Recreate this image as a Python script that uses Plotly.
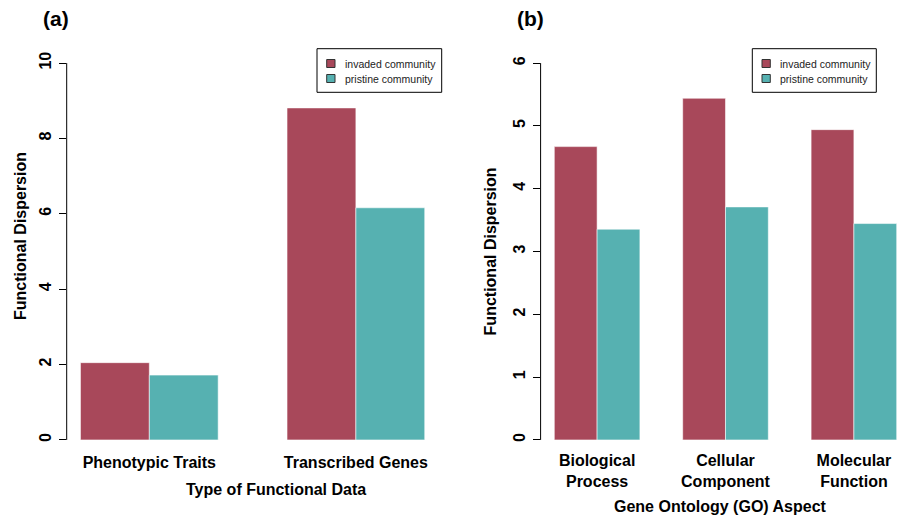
import plotly.graph_objects as go

# ---- data ----
cats_a = ["Phenotypic Traits", "Transcribed Genes"]
invaded_a = [2.05, 8.81]
pristine_a = [1.72, 6.16]

cats_b = ["Biological<br>Process", "Cellular<br>Component", "Molecular<br>Function"]
invaded_b = [4.67, 5.44, 4.94]
pristine_b = [3.355, 3.71, 3.445]

yticks_a = [0, 2, 4, 6, 8, 10]
yticks_b = [0, 1, 2, 3, 4, 5, 6]

series_names = ["invaded community", "pristine community"]
col_inv = "#A8485A"
col_pri = "#56B1B1"

W, H = 901, 517
FONT = "Liberation Sans, Arial, Helvetica, sans-serif"


def px_x(v):
    return v / W


def px_y(v):
    return 1 - v / H


fig = go.Figure()

line_style = dict(color="rgba(255,255,255,0.55)", width=1)

fig.add_trace(go.Bar(x=cats_a, y=invaded_a, name=series_names[0], marker=dict(color=col_inv, line=line_style),
                     xaxis="x", yaxis="y", showlegend=False))
fig.add_trace(go.Bar(x=cats_a, y=pristine_a, name=series_names[1], marker=dict(color=col_pri, line=line_style),
                     xaxis="x", yaxis="y", showlegend=False))
fig.add_trace(go.Bar(x=cats_b, y=invaded_b, name=series_names[0], marker=dict(color=col_inv, line=line_style),
                     xaxis="x2", yaxis="y2", showlegend=False))
fig.add_trace(go.Bar(x=cats_b, y=pristine_b, name=series_names[1], marker=dict(color=col_pri, line=line_style),
                     xaxis="x2", yaxis="y2", showlegend=False))

ydom = [px_y(455), px_y(48)]
tickfont = dict(family=FONT, size=16, color="black", weight="bold")

yaxis_common = dict(
    showgrid=False, zeroline=False, showline=False,
    ticks="outside", ticklen=7, tickwidth=1, tickcolor="black",
    tickangle=-90, tickfont=tickfont, ticklabelstandoff=1,
    domain=ydom,
)
xaxis_common = dict(
    type="category", showgrid=False, zeroline=False, showline=False,
    ticks="", tickfont=tickfont,
)

shapes = [
    dict(type="line", xref="x domain", yref="y", x0=0, x1=0, y0=yticks_a[0], y1=yticks_a[-1],
         line=dict(color="black", width=1)),
    dict(type="line", xref="x2 domain", yref="y2", x0=0, x1=0, y0=yticks_b[0], y1=yticks_b[-1],
         line=dict(color="black", width=1)),
]
annotations = []

# ---- hand-built legends (R style) ----
legend_boxes = [(317, 441.7), (752.3, 876.3)]
colors = [col_inv, col_pri]
for (lx0, lx1) in legend_boxes:
    shapes.append(dict(type="rect", xref="paper", yref="paper",
                       x0=px_x(lx0), x1=px_x(lx1), y0=px_y(92.3), y1=px_y(48.7),
                       line=dict(color="black", width=1), fillcolor="white", layer="above"))
    for i, (nm, c) in enumerate(zip(series_names, colors)):
        cy = 63.5 + 15 * i
        shapes.append(dict(type="rect", xref="paper", yref="paper",
                           x0=px_x(lx0 + 9.7), x1=px_x(lx0 + 18), y0=px_y(cy + 4), y1=px_y(cy - 4),
                           line=dict(color="#333333", width=1), fillcolor=c, layer="above"))
        annotations.append(dict(text=nm, x=px_x(lx0 + 26), y=px_y(cy), xanchor="left",
                                font=dict(family=FONT, size=10.5, color="#222222")))

fig.update_layout(
    width=W, height=H,
    margin=dict(l=0, r=0, t=0, b=0),
    paper_bgcolor="white", plot_bgcolor="white",
    barmode="group", bargap=1/3, bargroupgap=0,
    font=dict(family=FONT, color="black"),
    showlegend=False,
    xaxis=dict(xaxis_common, domain=[px_x(66.7), px_x(438.5)], range=[-0.4, 1.4], anchor="y",
               ticklabelstandoff=-4),
    yaxis=dict(yaxis_common, range=[-0.4, 10.4], tickvals=yticks_a, anchor="x"),
    xaxis2=dict(xaxis_common, domain=[px_x(540.6), 1.0], range=[-0.44, -0.44 + (W - 540.6) / 128.4], anchor="y2",
                ticklabelstandoff=-6),
    yaxis2=dict(yaxis_common, range=[-0.24, 6.24], tickvals=yticks_b, anchor="x2"),
    shapes=shapes,
)

title_font = dict(family=FONT, size=16, color="black", weight="bold")
annotations += [
    dict(text="(a)", x=px_x(56), y=px_y(18), font=dict(family=FONT, size=21, color="black", weight="bold")),
    dict(text="(b)", x=px_x(530.5), y=px_y(18), font=dict(family=FONT, size=21, color="black", weight="bold")),
    dict(text="Functional Dispersion", x=px_x(20), y=px_y(236), textangle=-90, font=title_font),
    dict(text="Functional Dispersion", x=px_x(490.7), y=px_y(251.7), textangle=-90, font=title_font),
    dict(text="Type of Functional Data", x=px_x(275.8), y=px_y(490), font=title_font),
    dict(text="Gene Ontology (GO) Aspect", x=px_x(720), y=px_y(506), font=title_font),
]
for a in annotations:
    a.setdefault("xanchor", "center")
    a.update(xref="paper", yref="paper", showarrow=False, yanchor="middle")
fig.update_layout(annotations=annotations)

fig.write_html("out.html", config={"displayModeBar": False},
               post_script="document.body.style.margin='0';document.body.style.overflow='hidden';")
